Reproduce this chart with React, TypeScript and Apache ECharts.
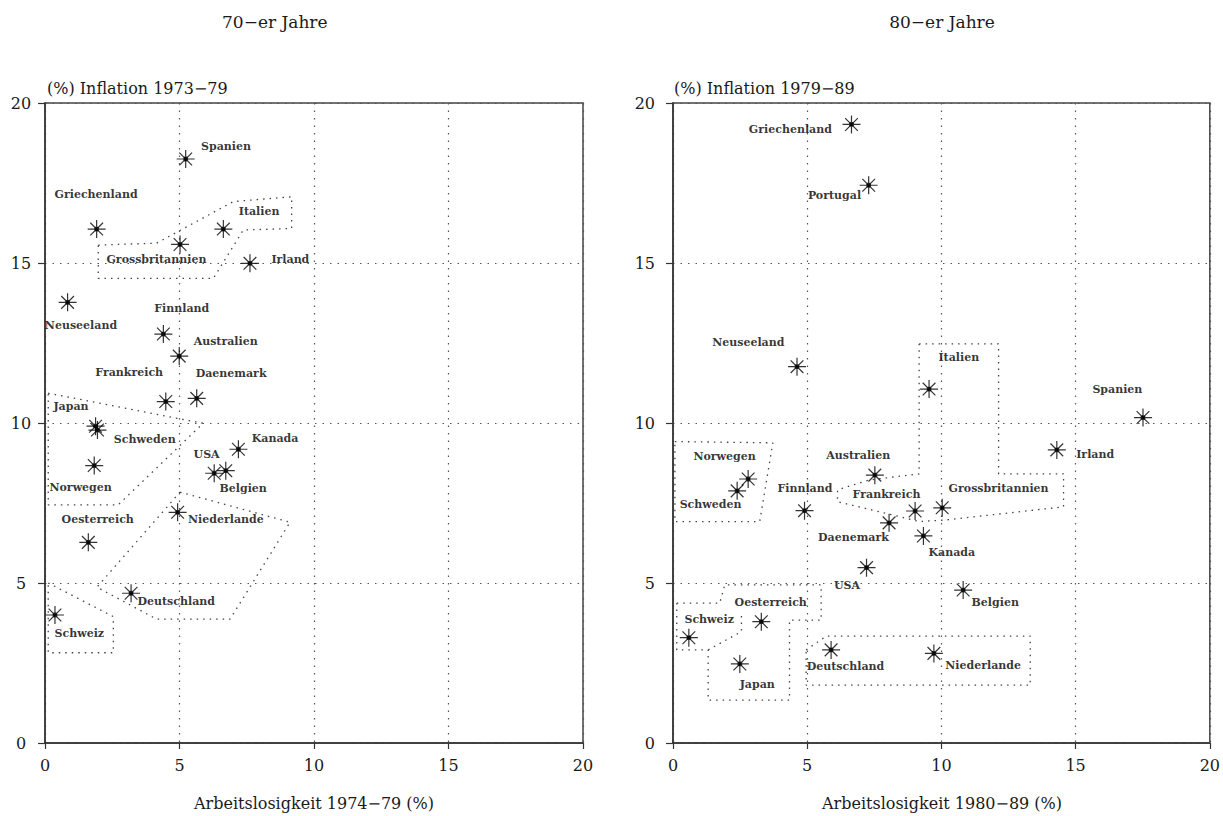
import React, { useEffect, useRef } from 'react';
import * as echarts from 'echarts';

// ---------- 70er Jahre ----------
const countries70 = ['Spanien', 'Griechenland', 'Italien', 'Grossbritannien', 'Irland', 'Neuseeland', 'Finnland', 'Australien', 'Frankreich', 'Daenemark', 'Japan', 'Schweden', 'Kanada', 'Norwegen', 'USA', 'Belgien', 'Niederlande', 'Oesterreich', 'Deutschland', 'Schweiz'];
const unemployment70 = [5.23, 1.92, 6.63, 5.02, 7.62, 0.84, 4.40, 4.99, 4.49, 5.64, 1.88, 1.95, 7.19, 1.83, 6.29, 6.72, 4.93, 1.61, 3.20, 0.37];
const inflation70 = [18.25, 16.06, 16.06, 15.58, 14.99, 13.77, 12.78, 12.09, 10.67, 10.77, 9.90, 9.78, 9.18, 8.67, 8.43, 8.51, 7.21, 6.27, 4.68, 4.00];

// ---------- 80er Jahre ----------
const countries80 = ['Griechenland', 'Portugal', 'Neuseeland', 'Italien', 'Spanien', 'Irland', 'Norwegen', 'Schweden', 'Australien', 'Finnland', 'Frankreich', 'Grossbritannien', 'Daenemark', 'Kanada', 'USA', 'Belgien', 'Oesterreich', 'Schweiz', 'Japan', 'Deutschland', 'Niederlande'];
const unemployment80 = [6.65, 7.29, 4.62, 9.54, 17.51, 14.30, 2.80, 2.39, 7.52, 4.90, 9.02, 10.03, 8.05, 9.33, 7.21, 10.81, 3.29, 0.59, 2.49, 5.89, 9.72];
const inflation80 = [19.33, 17.43, 11.76, 11.06, 10.17, 9.16, 8.25, 7.88, 8.37, 7.26, 7.25, 7.35, 6.88, 6.47, 5.48, 4.78, 3.79, 3.29, 2.47, 2.91, 2.80];

// ---------- axis ticks ----------
const axisMin = 0;
const axisMax = 20;
const axisStep = 5;

// ---------- texts ----------
const titles = ['70\u2212er Jahre', '80\u2212er Jahre'];
const xNames = ['Arbeitslosigkeit 1974\u221279 (%)', 'Arbeitslosigkeit 1980\u221289 (%)'];
const yNames = ['(%) Inflation 1973\u221279', '(%) Inflation 1979\u221289'];

// ---------- group outlines (data units) ----------
const groups70 = [
  [[1.98, 15.56], [4.15, 15.62], [7.0, 16.92], [9.17, 17.07], [9.17, 16.08], [7.37, 16.03], [6.26, 14.52], [1.98, 14.52], [1.98, 15.56]],
  [[0.12, 10.93], [5.88, 9.99], [2.72, 7.44], [0.12, 7.44], [0.12, 10.93]],
  [[5.02, 7.84], [9.11, 6.9], [6.88, 3.87], [4.15, 3.87], [1.93, 4.87], [5.02, 7.84]],
  [[0.12, 5.0], [2.54, 3.95], [2.54, 2.82], [0.12, 2.82], [0.12, 5.0]],
];
const groups80 = [
  [[0.07, 9.42], [3.72, 9.38], [3.23, 6.92], [0.07, 6.92], [0.07, 9.42]],
  [[9.17, 12.47], [12.13, 12.47], [12.13, 8.41], [14.55, 8.41], [14.55, 7.38], [10.16, 6.97], [9.17, 6.92], [8.17, 7.13], [6.13, 7.54], [6.13, 7.91], [7.31, 8.22], [9.17, 8.41], [9.17, 12.47]],
  [[0.14, 4.37], [1.74, 4.37], [1.93, 4.94], [5.52, 4.94], [5.52, 3.84], [4.34, 3.84], [4.34, 1.34], [1.31, 1.34], [1.31, 2.91], [0.14, 2.91], [0.14, 4.37]],
  [[1.31, 2.91], [2.55, 3.48], [2.55, 4.0]],
  [[4.96, 2.91], [5.71, 3.34], [13.31, 3.34], [13.31, 1.81], [4.96, 1.81], [4.96, 2.91]],
];

// ---------- label layout (offset from marker centre, px) ----------
const labelAlign70 = ['left', 'center', 'left', 'center', 'left', 'center', 'center', 'left', 'center', 'center', 'center', 'left', 'left', 'center', 'center', 'center', 'left', 'center', 'left', 'center'];
const labelDx70 = [16, 0, 16, -23, 22, 14, 19, 15, -36, 35, -24, 17, 14, -13, -7, 18, 11, 10, 7, 25];
const labelDy70 = [-12, -34, -17, 16, -3, 24, -25, -14, -28, -24, -19, 10, -10, 23, -18, 18, 8, -22, 9, 19];

const labelAlign80 = ['right', 'right', 'right', 'left', 'center', 'left', 'center', 'center', 'center', 'center', 'center', 'left', 'center', 'center', 'center', 'left', 'center', 'center', 'center', 'center', 'left'];
const labelDx80 = [-19, -7, -12, 10, -25, 20, -23, -26, -16, 1, -28, 7, -35, 29, -19, 9, 10, 21, 18, 15, 12];
const labelDy80 = [6, 11, -24, -31, -27, 5, -22, 14, -19, -22, -16, -19, 15, 17, 18, 13, -19, -18, 21, 17, 13];

const STAR = 'path://M0,-10L0,10M-10,0L10,0M-7.07,-7.07L7.07,7.07M-7.07,7.07L7.07,-7.07M-2,-2L2,-2L2,2L-2,2Z';
const SERIF = '"DejaVu Serif", "Liberation Serif", serif';
const INK = '#000000';

function pointData(names: string[], xs: number[], ys: number[], al: string[], dx: number[], dy: number[]) {
  return names.map((n, i) => ({
    name: n,
    value: [xs[i], ys[i]],
    label: { position: [9 + dx[i], 9 + dy[i]], align: al[i] },
  }));
}

function xAxis(gridIndex: number) {
  return {
    type: 'value', gridIndex, min: axisMin, max: axisMax, interval: axisStep,
    axisLine: { show: true, onZero: false, lineStyle: { color: '#333', width: 1.5 } },
    axisTick: { show: true, length: 6, lineStyle: { color: '#333', width: 1.2 } },
    axisLabel: { fontFamily: SERIF, fontSize: 16, color: '#1a1a1a', margin: 14 },
    splitLine: { show: true, lineStyle: { type: [1.5, 6], color: '#555', width: 1.2 } },
  };
}
function yAxis(gridIndex: number, align: string, margin: number) {
  return {
    type: 'value', gridIndex, min: axisMin, max: axisMax, interval: axisStep,
    axisLine: { show: true, onZero: false, lineStyle: { color: '#333', width: 1.5 } },
    axisTick: { show: true, length: 7, lineStyle: { color: '#333', width: 1.2 } },
    axisLabel: { fontFamily: SERIF, fontSize: 16, color: '#1a1a1a', margin, align },
    splitLine: { show: true, lineStyle: { type: [1.5, 6], color: '#555', width: 1.2 } },
  };
}

function scatter(idx: number, data: any[]) {
  return {
    type: 'scatter', xAxisIndex: idx, yAxisIndex: idx, data,
    symbol: STAR, symbolSize: 18, z: 5,
    itemStyle: { color: INK, borderColor: INK, borderWidth: 1.2 },
    label: {
      show: true, formatter: '{b}', verticalAlign: 'middle',
      fontFamily: SERIF, fontWeight: 'bold', fontSize: 11, color: INK,
    },
    emphasis: { disabled: true },
  };
}

function outlines(idx: number, polys: number[][][]) {
  return polys.map((p) => ({
    type: 'line', xAxisIndex: idx, yAxisIndex: idx, data: p,
    symbol: 'none', silent: true, z: 3,
    lineStyle: { type: [1.5, 5], color: '#444', width: 1.3 },
  }));
}

export default function App() {
  const ref = useRef<HTMLDivElement>(null);
  useEffect(() => {
    if (!ref.current) return;
    const chart = echarts.init(ref.current, undefined, { renderer: 'svg' });
    const textStyle = (size: number) => ({ font: `${size}px ${SERIF}`, fill: '#1a1a1a' });
    chart.setOption({
      animation: false,
      backgroundColor: '#ffffff',
      grid: [
        { left: 45, top: 103, width: 538, height: 640, show: true, borderColor: '#444', borderWidth: 1.5, containLabel: false },
        { left: 673, top: 103, width: 539, height: 640, show: true, borderColor: '#444', borderWidth: 1.5, containLabel: false },
      ],
      xAxis: [xAxis(0), xAxis(1)],
      yAxis: [yAxis(0, 'center', 24), yAxis(1, 'right', 18)],
      graphic: [
        { type: 'text', x: 222, y: 22, style: { ...textStyle(17), text: titles[0], align: 'left', verticalAlign: 'middle' } },
        { type: 'text', x: 942, y: 22, style: { ...textStyle(17), text: titles[1], align: 'center', verticalAlign: 'middle' } },
        { type: 'text', x: 47, y: 88, style: { ...textStyle(16), text: yNames[0], align: 'left', verticalAlign: 'middle' } },
        { type: 'text', x: 674, y: 88, style: { ...textStyle(16), text: yNames[1], align: 'left', verticalAlign: 'middle' } },
        { type: 'text', x: 314, y: 803, style: { ...textStyle(16), text: xNames[0], align: 'center', verticalAlign: 'middle' } },
        { type: 'text', x: 942, y: 803, style: { ...textStyle(16), text: xNames[1], align: 'center', verticalAlign: 'middle' } },
      ],
      series: [
        ...outlines(0, groups70),
        ...outlines(1, groups80),
        scatter(0, pointData(countries70, unemployment70, inflation70, labelAlign70, labelDx70, labelDy70)),
        scatter(1, pointData(countries80, unemployment80, inflation80, labelAlign80, labelDx80, labelDy80)),
      ],
    });
    return () => chart.dispose();
  }, []);
  return (
    <div
      ref={ref}
      style={{ position: 'fixed', left: 0, top: 0, width: 1223, height: 816, background: '#fff' }}
    />
  );
}
